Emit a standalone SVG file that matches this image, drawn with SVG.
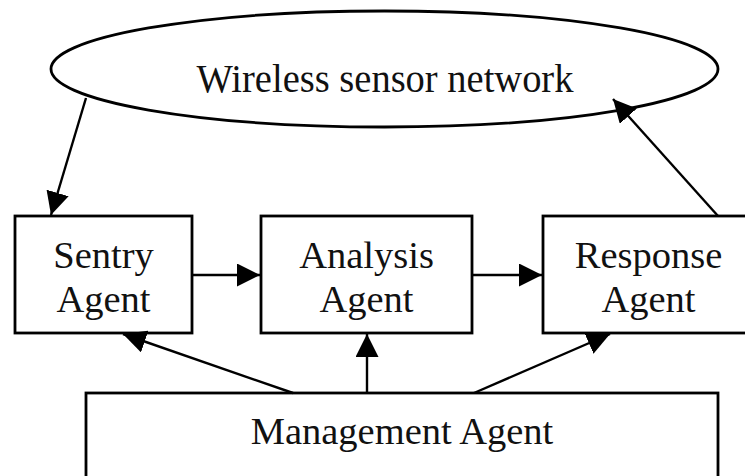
<svg xmlns="http://www.w3.org/2000/svg" width="745" height="476" viewBox="0 0 745 476">
  <style>
    .shape { fill: #ffffff; stroke: #000000; stroke-width: 2.8; }
    .label { font-family: "Liberation Serif", "Times New Roman", serif; font-size: 38.5px; fill: #111111; text-anchor: middle; }
    .edge { fill: none; stroke: #000000; stroke-width: 2.4; marker-end: url(#arrow); }
  </style>
  <defs>
    <!-- filled triangular arrowhead, sized in user units -->
    <marker id="arrow" markerUnits="userSpaceOnUse" markerWidth="24" markerHeight="23" refX="23" refY="11.5" orient="auto">
      <path d="M0,0 L23,11.5 L0,23 Z" fill="#000000"/>
    </marker>
  </defs>
  <rect width="745" height="476" fill="#ffffff"/>

  <g id="wsn">
    <ellipse class="shape" cx="384.5" cy="69" rx="333.5" ry="58"/>
    <text class="label" x="385" y="92" font-size="39" transform="translate(385 92) scale(1 1.05) translate(-385 -92)">Wireless sensor network</text>
  </g>

  <g id="sentry">
    <rect class="shape" x="15" y="216" width="177" height="117"/>
    <text class="label" x="103.5" y="268">Sentry</text>
    <text class="label" x="103.5" y="312">Agent</text>
  </g>

  <g id="analysis">
    <rect class="shape" x="261" y="216" width="211" height="117"/>
    <text class="label" x="366.5" y="268">Analysis</text>
    <text class="label" x="366.5" y="312">Agent</text>
  </g>

  <g id="response">
    <rect class="shape" x="543" y="216" width="211" height="117"/>
    <text class="label" x="648.5" y="268">Response</text>
    <text class="label" x="648.5" y="312">Agent</text>
  </g>

  <g id="management">
    <rect class="shape" x="86" y="393" width="632" height="100"/>
    <text class="label" x="402" y="444">Management Agent</text>
  </g>

  <g id="connectors">
    <line class="edge" x1="86" y1="98" x2="51" y2="215"/>
    <line class="edge" x1="192" y1="275" x2="260" y2="275"/>
    <line class="edge" x1="472" y1="275" x2="542" y2="275"/>
    <line class="edge" x1="718" y1="216" x2="613" y2="99"/>
    <line class="edge" x1="293" y1="393" x2="123" y2="334"/>
    <line class="edge" x1="367" y1="393" x2="367" y2="334"/>
    <line class="edge" x1="474" y1="393" x2="610" y2="334"/>
  </g>
</svg>
